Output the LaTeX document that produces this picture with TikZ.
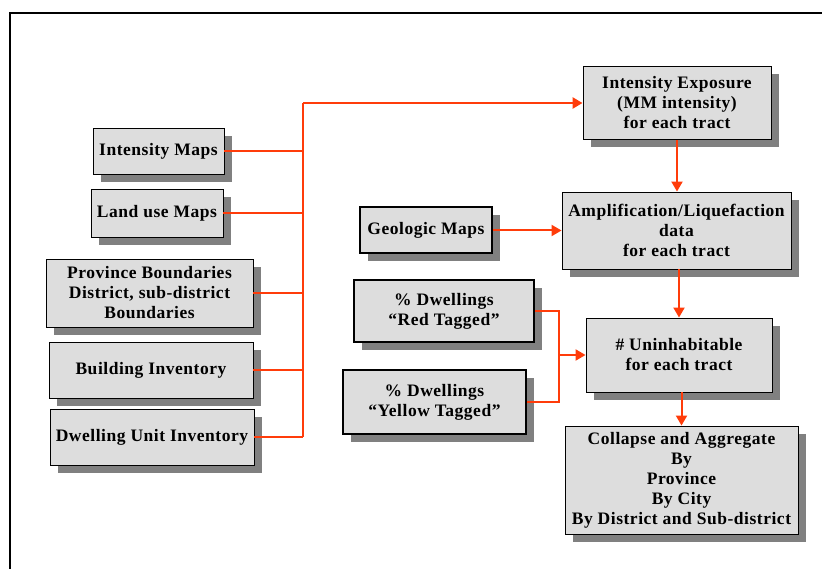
\documentclass[tikz,border=0pt]{standalone}
\usepackage{fontspec}
\setmainfont{Liberation Serif}
\usepackage{tikz}
\usetikzlibrary{arrows.meta,positioning,calc,shadows}
\definecolor{linkred}{RGB}{255,60,10}
\definecolor{boxgrey}{RGB}{221,221,221}
\definecolor{shadowgrey}{RGB}{128,128,128}
\tikzset{
  base/.style={font=\fontsize{17.5}{20}\selectfont\bfseries\addfontfeature{LetterSpace=3}, align=center, inner sep=0pt, text=black},
  box/.style={base, rectangle, draw=black, fill=boxgrey, line width=0.9pt,
    drop shadow={shadow xshift=8pt, shadow yshift=-8pt, fill=shadowgrey, opacity=1}},
  boldbox/.style={box, line width=2pt},
  link/.style={draw=linkred, line width=2pt},
  bus/.style={draw=linkred, line width=2.8pt},
  arr/.style={link, -{Triangle[length=10pt,width=11pt]}},
}
\begin{document}
\begin{tikzpicture}[x=1pt,y=-1pt]
  \useasboundingbox (0,0) rectangle (822,569);
  % frame
  \draw[line width=2.5pt] (10,569) -- (10,13) -- (822,13);
  % input maps and inventories
  \node[box, minimum width=131, minimum height=46] (intmaps) at (158.5,151) {Intensity Maps};
  \node[box, minimum width=132, minimum height=48] (landuse) at (157,213) {Land use Maps};
  \node[box, minimum width=207, minimum height=68] (province) at (149.5,293) {Province Boundaries\\District, sub-district\\Boundaries};
  \node[box, minimum width=204, minimum height=56] (building) at (151,370) {Building Inventory};
  \node[box, minimum width=204, minimum height=56] (dwelling) at (152,437) {Dwelling Unit Inventory};
  % per tract results
  \node[box, minimum width=188, minimum height=73] (expo) at (677,103) {Intensity Exposure\\(MM intensity)\\for each tract};
  \node[box, minimum width=229, minimum height=77] (ampl) at (676.5,230.5) {Amplification/Liquefaction\\data\\for each tract};
  \node[boldbox, minimum width=132, minimum height=46] (geo) at (426,230.5) {Geologic Maps};
  \node[boldbox, minimum width=180, minimum height=62] (red) at (444,311) {\% Dwellings\\``Red Tagged''};
  \node[boldbox, minimum width=183, minimum height=64] (yellow) at (434.5,402) {\% Dwellings\\``Yellow Tagged''};
  \node[box, minimum width=186, minimum height=74] (uninh) at (679,355) {\# Uninhabitable\\for each tract};
  \node[box, minimum width=233, minimum height=108] (collapse) at (681.5,480) {Collapse and Aggregate\\By\\Province\\By City\\By District and Sub-district};
  % bus to exposure
  \coordinate (bustop) at (303,103);
  \coordinate (busbot) at (303,437);
  \draw[link] (intmaps.east) -- (intmaps.east -| bustop);
  \draw[link] (landuse.east) -- (landuse.east -| bustop);
  \draw[link] (province.east) -- (province.east -| bustop);
  \draw[link] (building.east) -- (building.east -| bustop);
  \draw[link] (dwelling.east) -- (busbot);
  \draw[bus] (busbot) -- (bustop);
  \draw[arr, line width=2.8pt] (bustop) -- (expo.west);
  % chain
  \draw[arr] (expo.south) -- (ampl.north -| expo.south);
  \draw[arr] (geo.east) -- (geo.east -| ampl.west);
  \draw[arr] (ampl.south -| uninh.north) -- (uninh.north);
  \coordinate (tagjoin) at (559,355);
  \draw[link] (red.east) -| (tagjoin);
  \draw[link] (yellow.east) -| (tagjoin);
  \draw[arr] (tagjoin) -- (uninh.west);
  \draw[arr] (uninh.south -| collapse.north) -- (collapse.north);
\end{tikzpicture}
\end{document}
